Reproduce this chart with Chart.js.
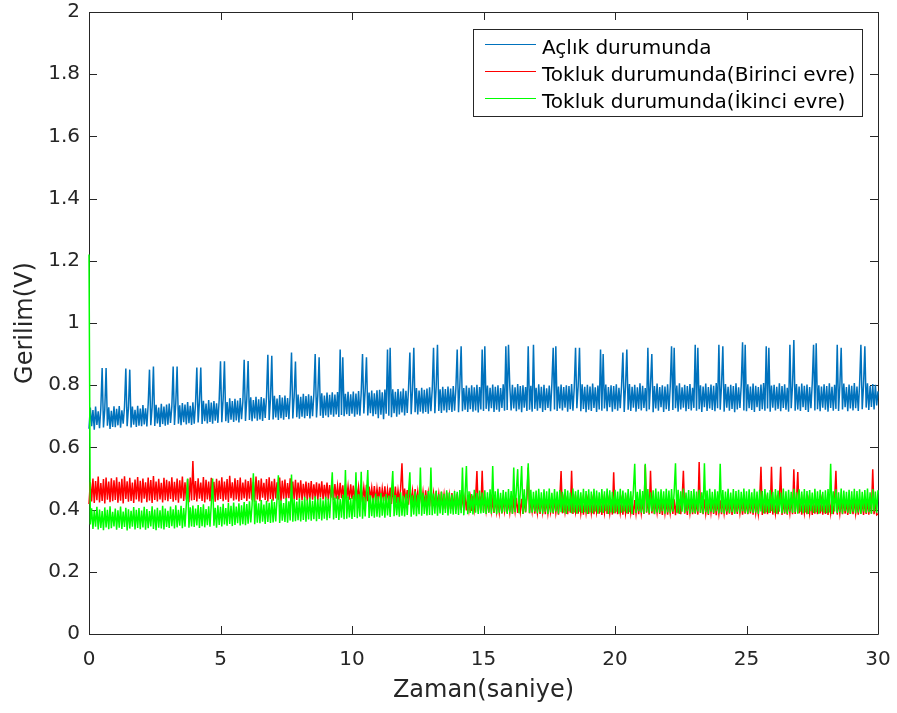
<!DOCTYPE html>
<html>
<head>
<meta charset="utf-8">
<title>Gerilim - Zaman</title>
<script src="https://cdn.jsdelivr.net/npm/chart.js@4.4.1/dist/chart.umd.min.js"></script>
<style>
    html, body { margin: 0; padding: 0; background: #fff; }
    canvas { display: block; }
</style>
</head>
<body>
<canvas id="voltageChart" width="897" height="713"></canvas>
<script>
// samples every 0.05 s, values in millivolts (one row = 1 s)
const SAMPLE_STEP_S = 0.05;

const seriesLabels = ['Açlık durumunda', 'Tokluk durumunda(Birinci evre)', 'Tokluk durumunda(İkinci evre)'];
const seriesColors = ['#0072BD', '#FF0000', '#00FF00'];

const aclikMv = [
    660,728,668,720,657,731,672,716,662,726,855,664,722,855,670,729,659,718,666,732,
    665,724,671,733,663,719,676,730,854,668,727,850,664,731,673,721,666,734,670,725,
    668,736,674,726,667,739,850,671,729,860,669,737,677,728,666,740,675,731,670,738,
    673,741,679,732,860,672,744,860,676,735,671,743,681,738,674,746,678,734,672,745,
    676,739,857,680,748,857,675,750,684,741,677,752,682,744,676,749,686,742,679,753,
    877,681,755,877,684,746,679,758,689,749,682,756,687,751,680,759,691,747,882,685,
    757,878,688,761,684,752,693,763,686,755,690,762,685,758,695,764,898,688,756,895,
    690,766,696,757,688,768,694,760,689,767,698,759,691,769,905,693,762,876,697,770,
    692,763,699,772,694,765,701,771,693,766,700,773,900,696,768,890,702,774,695,767,
    703,776,697,769,705,777,699,770,706,778,698,915,704,890,700,772,707,779,701,771,
    708,780,699,773,706,781,702,775,900,709,782,890,703,776,710,783,700,774,707,784,
    694,785,705,777,691,786,708,915,702,920,697,787,710,779,699,788,706,780,712,789,
    703,782,711,790,905,707,784,920,713,791,706,783,715,792,709,785,714,789,708,793,
    716,786,920,710,794,930,717,787,711,795,719,788,712,796,720,789,714,797,718,790,
    915,713,798,925,716,791,721,799,714,792,723,800,715,793,719,801,712,794,722,915,
    717,925,724,799,716,792,726,802,714,795,721,800,715,791,727,803,718,925,720,930,
    796,719,801,725,793,716,804,722,797,713,800,728,794,717,925,721,798,715,930,724,
    792,718,803,726,795,714,801,720,790,727,799,716,805,920,722,925,717,796,725,802,
    719,794,728,800,715,797,723,804,718,791,920,726,798,920,716,803,724,795,713,801,
    721,796,717,805,727,793,714,799,722,915,718,900,725,802,716,794,729,800,715,797,
    723,803,718,792,726,799,905,714,796,915,721,804,717,795,728,801,715,793,724,806,
    719,798,727,791,716,920,722,802,900,713,797,725,805,718,794,729,800,714,796,723,
    803,717,795,925,720,920,726,799,715,806,722,793,728,801,716,797,724,804,719,792,
    727,930,718,920,723,800,714,796,729,805,717,794,725,802,720,798,716,807,726,930,
    721,799,925,715,804,728,795,718,801,724,797,713,806,722,793,727,800,938,719,930,
    716,803,726,796,720,805,714,798,729,794,717,802,723,807,718,925,725,920,715,799,
    728,801,719,795,724,806,716,797,727,803,721,792,715,930,726,799,945,718,804,722,
    796,717,805,729,798,720,802,714,794,726,807,930,719,935,723,800,716,796,728,803,
    721,797,715,806,727,795,718,801,724,930,717,799,920,722,805,729,794,716,802,725,
    798,719,807,726,796,717,803,930,723,799,925,728,806,720,797,730,804,722,801,735,
    780
];

const toklukBirinciMv = [
    418,488,426,500,421,492,430,506,423,485,428,498,420,503,432,490,424,501,427,494,
    431,504,422,489,429,499,420,507,434,491,425,502,428,487,421,497,433,505,426,493,
    422,500,435,488,424,503,429,495,421,508,431,490,426,499,433,486,423,502,430,496,
    427,491,434,504,425,489,430,500,422,494,436,506,428,488,432,498,424,503,429,556,
    431,492,426,501,435,487,428,505,423,496,433,490,427,502,436,489,425,499,430,493,
    434,504,427,490,432,498,424,509,437,488,429,501,433,495,426,503,431,487,436,497,
    428,492,435,502,430,489,425,506,433,494,427,500,438,486,431,498,426,504,434,491,
    429,499,436,488,432,503,427,493,435,497,430,485,437,501,428,490,434,496,431,487,
    436,494,430,483,438,490,429,486,435,492,432,481,437,488,430,484,439,491,433,480,
    436,487,431,479,438,485,430,482,435,476,433,486,437,478,429,483,436,475,432,481,
    434,477,428,482,436,473,430,479,425,471,433,480,427,474,435,470,429,476,424,468,
    431,473,422,467,428,475,420,464,426,471,418,466,429,474,421,462,427,469,549,419,
    468,424,463,416,471,422,460,414,466,420,458,413,465,418,456,411,462,417,454,410,
    461,415,452,408,459,412,450,405,457,410,448,403,455,409,446,402,453,407,444,400,
    451,405,442,399,449,403,440,397,447,401,438,396,445,400,436,524,394,443,398,525,
    393,441,397,434,390,439,395,432,389,437,394,430,391,436,388,433,396,438,390,431,
    392,436,387,431,395,438,389,429,393,435,386,432,391,437,535,388,430,394,434,387,
    433,390,428,386,436,392,430,385,434,389,427,393,432,387,435,391,429,384,433,524,
    388,431,392,426,385,434,390,525,386,430,393,428,387,435,389,427,384,432,391,429,
    386,434,390,428,385,431,392,426,387,433,383,429,391,435,386,427,389,432,384,520,
    388,430,385,434,391,427,384,432,389,428,386,435,390,426,383,431,388,429,385,433,
    389,428,386,543,390,431,384,525,388,433,385,427,391,432,386,429,383,434,389,426,
    384,431,390,427,386,433,382,429,388,432,385,428,525,387,430,383,434,389,427,385,
    432,387,428,384,553,389,430,385,433,388,427,383,431,390,429,386,434,382,428,388,
    430,385,433,389,427,384,431,387,429,383,434,388,428,386,432,390,427,384,431,387,
    429,385,433,388,428,384,432,389,426,386,430,538,383,431,387,428,385,433,389,538,
    384,430,388,427,385,432,538,383,429,387,433,384,428,389,431,385,530,386,430,521,
    388,432,384,428,390,431,385,427,389,433,383,429,387,430,385,434,388,428,384,431,
    386,429,383,432,389,427,385,431,525,384,430,388,428,385,433,387,427,383,431,386,
    430,385,433,388,427,384,431,387,429,383,432,386,428,384,430,387,530,385,429,383,
    386
];

const toklukIkinciMv = [
    1220,352,404,338,397,345,409,336,400,341,395,334,407,343,399,337,411,340,393,346,
    403,335,398,342,410,338,394,344,406,333,401,339,396,345,408,336,399,341,405,337,
    397,343,409,335,402,340,395,346,411,338,400,334,406,342,398,339,412,336,403,344,
    396,341,410,347,401,339,414,343,399,348,412,340,405,345,416,500,342,407,346,413,
    344,403,349,415,341,408,347,417,343,402,350,411,345,418,500,348,406,342,414,351,
    409,346,419,352,405,348,421,354,412,347,423,351,410,356,420,349,414,353,424,350,
    418,355,427,359,414,517,353,429,358,420,356,431,361,416,354,428,360,422,357,433,
    359,424,362,435,510,357,430,364,421,360,437,358,427,365,513,361,434,363,426,366,
    436,362,429,367,441,361,432,368,439,364,428,369,443,363,433,370,438,365,430,371,
    441,366,435,372,446,520,368,439,373,444,367,434,374,448,369,527,371,442,375,437,
    370,445,376,520,372,449,377,522,371,440,378,451,527,373,446,379,438,374,452,377,
    443,375,453,380,441,374,450,381,445,376,455,524,379,447,382,440,377,456,380,444,
    378,451,383,457,520,377,446,384,459,379,448,385,535,380,454,386,447,381,460,383,
    535,382,452,387,461,380,449,388,458,383,451,389,462,381,455,387,448,384,460,386,
    457,383,463,388,535,382,452,540,385,459,389,450,384,464,390,453,386,461,388,455,
    389,462,386,456,391,465,387,540,392,459,385,467,390,454,388,463,393,457,386,466,
    391,460,387,535,392,463,530,388,458,540,386,465,393,455,549,389,464,390,457,394,
    461,388,467,392,456,387,465,393,459,386,468,391,454,389,466,394,458,387,463,392,
    457,390,466,386,461,395,455,388,468,391,459,387,464,393,456,389,467,392,460,386,
    465,391,458,388,467,394,461,387,456,392,466,389,459,395,468,386,462,391,457,388,
    464,393,458,387,467,390,461,394,455,388,466,392,459,386,463,547,389,457,395,465,
    390,460,387,547,393,466,388,456,394,462,386,468,391,458,389,465,395,459,387,467,
    392,461,388,466,394,457,549,390,464,386,459,393,468,389,455,395,463,387,460,391,
    466,388,458,394,464,390,456,387,549,392,461,386,467,393,457,389,465,395,459,388,
    547,391,463,387,458,394,467,389,455,392,466,386,460,393,464,388,457,395,468,390,
    459,387,465,393,456,389,467,391,458,386,464,394,460,388,466,392,455,389,463,395,
    457,390,466,387,461,393,455,388,468,391,459,386,464,394,457,389,467,392,456,387,
    465,393,458,388,466,391,460,386,463,395,455,389,467,392,459,387,464,394,457,390,
    462,388,466,391,547,386,459,394,465,389,456,392,468,387,461,395,457,390,464,386,
    459,393,467,388,460,391,465,386,457,394,463,389,468,392,456,387,466,395,458,390,
    462
];

const xTicks = [0, 5, 10, 15, 20, 25, 30];
const yTicks = [0, 0.2, 0.4, 0.6, 0.8, 1, 1.2, 1.4, 1.6, 1.8, 2];

const FONT = 'DejaVu Sans';
const AXIS_COLOR = '#262626';

function toPoints(mv) {
    return mv.map((v, i) => ({ x: i * SAMPLE_STEP_S, y: v / 1000 }));
}

function formatTick(value) {
    return String(Number(value.toFixed(1)));
}

// MATLAB style box with inward ticks on all four sides
const matlabAxes = {
    id: 'matlabAxes',
    beforeDatasetsDraw(chart) {
        const { ctx, chartArea: a, scales } = chart;
        const tickLen = 8;
        ctx.save();
        ctx.strokeStyle = AXIS_COLOR;
        ctx.lineWidth = 1;
        ctx.beginPath();
        ctx.rect(a.left + 0.5, a.top + 0.5, a.right - a.left, a.bottom - a.top);
        xTicks.forEach(v => {
            const px = Math.round(scales.x.getPixelForValue(v)) + 0.5;
            ctx.moveTo(px, a.bottom);
            ctx.lineTo(px, a.bottom - tickLen);
            ctx.moveTo(px, a.top);
            ctx.lineTo(px, a.top + tickLen);
        });
        yTicks.forEach(v => {
            const py = Math.round(scales.y.getPixelForValue(v)) + 0.5;
            ctx.moveTo(a.left, py);
            ctx.lineTo(a.left + tickLen, py);
            ctx.moveTo(a.right, py);
            ctx.lineTo(a.right - tickLen, py);
        });
        ctx.stroke();
        ctx.restore();
    }
};

// legend box in the upper right of the axes
const matlabLegend = {
    id: 'matlabLegend',
    afterDraw(chart) {
        const { ctx } = chart;
        const box = { x: 473.5, y: 29.5, w: 389, h: 87 };
        ctx.save();
        ctx.fillStyle = '#fff';
        ctx.fillRect(box.x, box.y, box.w, box.h);
        ctx.strokeStyle = AXIS_COLOR;
        ctx.lineWidth = 1;
        ctx.strokeRect(box.x, box.y, box.w, box.h);
        ctx.font = `20px "${FONT}"`;
        ctx.textBaseline = 'alphabetic';
        ctx.textAlign = 'left';
        chart.data.datasets.forEach((ds, i) => {
            const baseline = 53.5 + i * 27;
            ctx.strokeStyle = ds.borderColor;
            ctx.lineWidth = 1;
            ctx.beginPath();
            ctx.moveTo(485, baseline - 9);
            ctx.lineTo(536, baseline - 9);
            ctx.stroke();
            ctx.fillStyle = '#000';
            ctx.fillText(ds.label, 542, baseline);
        });
        ctx.restore();
    }
};

const seriesMv = [aclikMv, toklukBirinciMv, toklukIkinciMv];
// later series are painted on top, as in the original figure
const drawOrder = [2, 1, 0];

new Chart(document.getElementById('voltageChart'), {
    type: 'line',
    data: {
        datasets: seriesMv.map((mv, i) => ({
            label: seriesLabels[i],
            data: toPoints(mv),
            borderColor: seriesColors[i],
            borderWidth: 1.5,
            pointRadius: 0,
            tension: 0,
            fill: false,
            clip: false,
            order: drawOrder[i]
        }))
    },
    options: {
        responsive: false,
        animation: false,
        devicePixelRatio: 1,
        layout: { padding: { top: 12, right: 19, left: 0, bottom: 0 } },
        plugins: {
            legend: { display: false },
            tooltip: { enabled: false }
        },
        scales: {
            x: {
                type: 'linear',
                min: 0,
                max: 30,
                afterBuildTicks: scale => { scale.ticks = xTicks.map(v => ({ value: v })); },
                afterFit: scale => {
                    scale.height = 79;
                    scale.paddingLeft = 0;
                    scale.paddingRight = 0;
                },
                grid: { display: false, drawTicks: false },
                border: { display: false },
                ticks: {
                    font: { family: FONT, size: 20 },
                    color: AXIS_COLOR,
                    padding: 14,
                    maxRotation: 0,
                    callback: formatTick
                },
                title: {
                    display: true,
                    text: 'Zaman(saniye)',
                    font: { family: FONT, size: 24 },
                    color: AXIS_COLOR,
                    padding: { top: 0, bottom: 8 }
                }
            },
            y: {
                min: 0,
                max: 2,
                afterBuildTicks: scale => { scale.ticks = yTicks.map(v => ({ value: v })); },
                afterFit: scale => {
                    scale.width = 89;
                    scale.paddingTop = 0;
                    scale.paddingBottom = 0;
                },
                grid: { display: false, drawTicks: false },
                border: { display: false },
                ticks: {
                    font: { family: FONT, size: 20 },
                    color: AXIS_COLOR,
                    padding: 9,
                    callback: formatTick
                },
                title: {
                    display: true,
                    text: 'Gerilim(V)',
                    font: { family: FONT, size: 24 },
                    color: AXIS_COLOR,
                    padding: { top: 11, bottom: 0 }
                }
            }
        }
    },
    plugins: [matlabAxes, matlabLegend]
});
</script>
</body>
</html>
